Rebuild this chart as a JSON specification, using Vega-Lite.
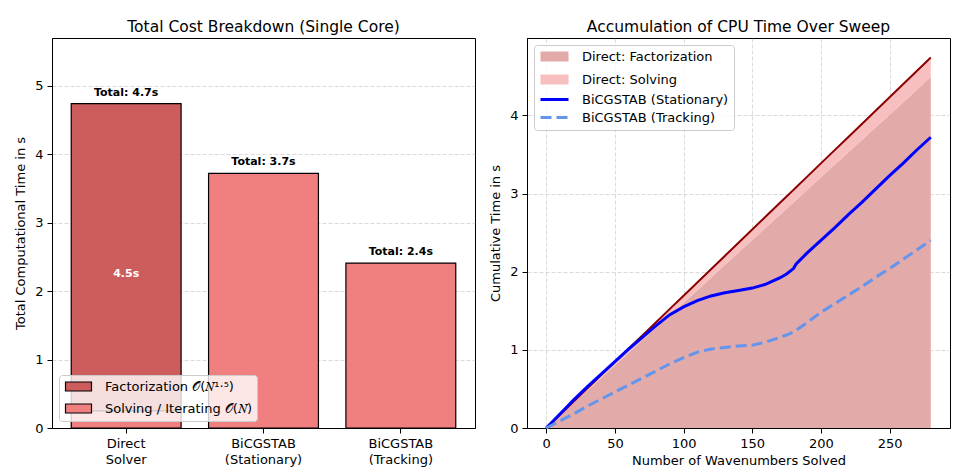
{
  "$schema": "https://vega.github.io/schema/vega-lite/v6.json",
  "padding": {"left": 13, "top": 19, "right": 3, "bottom": 0},
  "config": {
    "font": "DejaVu Sans",
    "view": {"stroke": "black", "strokeWidth": 1},
    "axis": {"domain": true, "domainColor": "black", "domainWidth": 1, "tickColor": "black", "tickSize": 5, "labelPadding": 4, "labelFontSize": 13, "labelColor": "#000", "titleFontSize": 13, "titleFontWeight": "normal", "titleColor": "#000", "gridColor": "#b0b0b0", "gridOpacity": 0.6, "gridDash": [4, 2], "gridWidth": 0.8, "zindex": 1},
    "title": {"fontSize": 15.5, "fontWeight": "normal", "color": "#000", "offset": 3},
    "concat": {"spacing": 12}
  },
  "resolve": {
    "scale": {"fill": "independent", "stroke": "independent", "shape": "independent", "strokeDash": "independent"},
    "legend": {"fill": "independent", "stroke": "independent", "shape": "independent", "strokeDash": "independent"}
  },
  "datasets": {
    "bars": [
      {"method": "Direct\nSolver", "component": "Factorization 𝒪(𝑁¹·⁵)", "value": 4.49},
      {"method": "Direct\nSolver", "component": "Solving / Iterating 𝒪(𝑁)", "value": 0.25},
      {"method": "BiCGSTAB\n(Stationary)", "component": "Solving / Iterating 𝒪(𝑁)", "value": 3.72},
      {"method": "BiCGSTAB\n(Tracking)", "component": "Solving / Iterating 𝒪(𝑁)", "value": 2.41}
    ],
    "totals": [
      {"method": "Direct\nSolver", "total": 4.74, "label": "Total: 4.7s"},
      {"method": "BiCGSTAB\n(Stationary)", "total": 3.72, "label": "Total: 3.7s"},
      {"method": "BiCGSTAB\n(Tracking)", "total": 2.41, "label": "Total: 2.4s"}
    ],
    "sweep": [
      {"n": 0, "fact": 0, "total": 0, "stat": 0, "track": 0},
      {"n": 10, "fact": 0.16, "total": 0.169, "stat": 0.18, "track": 0.09},
      {"n": 20, "fact": 0.321, "total": 0.339, "stat": 0.36, "track": 0.18},
      {"n": 30, "fact": 0.481, "total": 0.508, "stat": 0.53, "track": 0.28},
      {"n": 40, "fact": 0.641, "total": 0.677, "stat": 0.69, "track": 0.37},
      {"n": 50, "fact": 0.802, "total": 0.846, "stat": 0.85, "track": 0.46},
      {"n": 60, "fact": 0.962, "total": 1.016, "stat": 1.01, "track": 0.55},
      {"n": 70, "fact": 1.123, "total": 1.185, "stat": 1.16, "track": 0.64},
      {"n": 80, "fact": 1.283, "total": 1.354, "stat": 1.31, "track": 0.73},
      {"n": 90, "fact": 1.443, "total": 1.524, "stat": 1.45, "track": 0.82},
      {"n": 100, "fact": 1.604, "total": 1.693, "stat": 1.55, "track": 0.9},
      {"n": 110, "fact": 1.764, "total": 1.862, "stat": 1.63, "track": 0.97},
      {"n": 120, "fact": 1.924, "total": 2.031, "stat": 1.69, "track": 1.01},
      {"n": 130, "fact": 2.085, "total": 2.201, "stat": 1.73, "track": 1.03},
      {"n": 140, "fact": 2.245, "total": 2.37, "stat": 1.76, "track": 1.05},
      {"n": 150, "fact": 2.405, "total": 2.539, "stat": 1.79, "track": 1.06},
      {"n": 160, "fact": 2.566, "total": 2.709, "stat": 1.84, "track": 1.1},
      {"n": 170, "fact": 2.726, "total": 2.878, "stat": 1.92, "track": 1.16},
      {"n": 175, "fact": 2.806, "total": 2.963, "stat": 1.97, "track": 1.19},
      {"n": 180, "fact": 2.886, "total": 3.047, "stat": 2.04, "track": 1.23},
      {"n": 182, "fact": 2.918, "total": 3.081, "stat": 2.1, "track": 1.25},
      {"n": 190, "fact": 3.047, "total": 3.216, "stat": 2.24, "track": 1.35},
      {"n": 200, "fact": 3.207, "total": 3.386, "stat": 2.4, "track": 1.48},
      {"n": 210, "fact": 3.368, "total": 3.555, "stat": 2.56, "track": 1.59},
      {"n": 220, "fact": 3.528, "total": 3.724, "stat": 2.73, "track": 1.7},
      {"n": 230, "fact": 3.688, "total": 3.894, "stat": 2.89, "track": 1.81},
      {"n": 240, "fact": 3.849, "total": 4.063, "stat": 3.06, "track": 1.93},
      {"n": 250, "fact": 4.009, "total": 4.232, "stat": 3.23, "track": 2.04},
      {"n": 260, "fact": 4.169, "total": 4.401, "stat": 3.39, "track": 2.16},
      {"n": 270, "fact": 4.33, "total": 4.571, "stat": 3.56, "track": 2.28},
      {"n": 280, "fact": 4.49, "total": 4.74, "stat": 3.72, "track": 2.4}
    ],
    "legendRight": [
      {"series": "Direct: Factorization"},
      {"series": "Direct: Solving"},
      {"series": "BiCGSTAB (Stationary)"},
      {"series": "BiCGSTAB (Tracking)"}
    ]
  },
  "hconcat": [
    {
      "width": 423,
      "height": 390,
      "title": "Total Cost Breakdown (Single Core)",
      "layer": [
        {
          "data": {"name": "bars"},
          "mark": {"type": "bar", "stroke": "black", "strokeWidth": 1.2},
          "encoding": {
            "x": {"field": "method", "type": "nominal", "sort": null, "scale": {"paddingInner": 0.2, "paddingOuter": 0.14}, "axis": {"title": null, "labelAngle": 0, "labelExpr": "split(datum.label, '\\n')", "grid": false, "labelLineHeight": 16.5}},
            "y": {"field": "value", "type": "quantitative", "stack": "zero", "scale": {"domain": [0, 5.7], "nice": false}, "axis": {"title": "Total Computational Time in s", "values": [0, 1, 2, 3, 4, 5], "format": "d", "minExtent": 17, "maxExtent": 17, "titlePadding": 8}},
            "fill": {"field": "component", "type": "nominal", "scale": {"domain": ["Factorization 𝒪(𝑁¹·⁵)", "Solving / Iterating 𝒪(𝑁)"], "range": ["#cd5c5c", "#f08080"]},
              "legend": {"title": null, "orient": "bottom-left", "offset": 7, "symbolType": "M-1,-0.9H4.2V0.9H-1Z", "symbolSize": 100, "symbolStrokeColor": "black", "symbolStrokeWidth": 1.2, "symbolOpacity": 1, "labelFontSize": 13, "labelColor": "#000", "fillColor": "rgba(255,255,255,0.8)", "strokeColor": "#cccccc", "cornerRadius": 3, "padding": 5, "rowPadding": 7, "labelOffset": 28, "labelLimit": 400}}
          }
        },
        {
          "data": {"name": "totals"},
          "mark": {"type": "text", "fontWeight": "bold", "fontSize": 11, "baseline": "bottom", "dy": -6, "color": "#000"},
          "encoding": {
            "x": {"field": "method", "type": "nominal", "sort": null},
            "y": {"field": "total", "type": "quantitative", "title": "Total Computational Time in s"},
            "text": {"field": "label"}
          }
        },
        {
          "data": {"name": "bars"},
          "transform": [
            {"filter": "datum.component == 'Factorization 𝒪(𝑁¹·⁵)'"},
            {"calculate": "datum.value / 2", "as": "mid"},
            {"calculate": "format(datum.value, '.1f') + 's'", "as": "lbl"}
          ],
          "mark": {"type": "text", "fontWeight": "bold", "fontSize": 11, "baseline": "middle", "color": "white"},
          "encoding": {
            "x": {"field": "method", "type": "nominal", "sort": null},
            "y": {"field": "mid", "type": "quantitative", "title": "Total Computational Time in s"},
            "text": {"field": "lbl"}
          }
        }
      ]
    },
    {
      "width": 423,
      "height": 390,
      "title": "Accumulation of CPU Time Over Sweep",
      "encoding": {
        "x": {"field": "n", "type": "quantitative", "scale": {"domain": [-14, 294], "nice": false, "zero": false}, "axis": {"title": "Number of Wavenumbers Solved", "values": [0, 50, 100, 150, 200, 250], "titlePadding": 4}}
      },
      "layer": [
        {
          "data": {"name": "sweep"},
          "mark": {"type": "area", "color": "#e3aaaa", "opacity": 1},
          "encoding": {
            "y": {"field": "fact", "type": "quantitative", "scale": {"domain": [0, 4.99], "nice": false}, "axis": {"title": "Cumulative Time in s", "values": [0, 1, 2, 3, 4], "format": "d", "minExtent": 17, "maxExtent": 17, "titlePadding": 8}}
          }
        },
        {
          "data": {"name": "sweep"},
          "mark": {"type": "area", "color": "#f7bfbf", "opacity": 1},
          "encoding": {
            "y": {"field": "fact", "type": "quantitative", "title": "Cumulative Time in s"},
            "y2": {"field": "total"}
          }
        },
        {
          "data": {"name": "sweep"},
          "mark": {"type": "line", "color": "#8b0000", "strokeWidth": 2},
          "encoding": {"y": {"field": "total", "type": "quantitative", "title": "Cumulative Time in s"}}
        },
        {
          "data": {"name": "sweep"},
          "mark": {"type": "line", "color": "#0000ff", "strokeWidth": 3},
          "encoding": {"y": {"field": "stat", "type": "quantitative", "title": "Cumulative Time in s"}}
        },
        {
          "data": {"name": "sweep"},
          "mark": {"type": "line", "color": "#6495ed", "strokeWidth": 3, "strokeDash": [11, 5]},
          "encoding": {"y": {"field": "track", "type": "quantitative", "title": "Cumulative Time in s"}}
        },
        {
          "data": {"name": "legendRight"},
          "mark": {"type": "point", "opacity": 0, "strokeWidth": 3},
          "encoding": {
            "x": null,
            "stroke": {"field": "series", "type": "nominal", "scale": {"domain": ["Direct: Factorization", "Direct: Solving", "BiCGSTAB (Stationary)", "BiCGSTAB (Tracking)"], "range": ["#e3aaaa", "#f7bfbf", "#0000ff", "#6495ed"]},
              "legend": {"title": null, "orient": "top-left", "offset": 7, "symbolSize": 100, "symbolOpacity": 1, "symbolStrokeWidth": 3, "labelFontSize": 13, "labelColor": "#000", "fillColor": "rgba(255,255,255,0.8)", "strokeColor": "#cccccc", "cornerRadius": 3, "padding": 5, "rowPadding": 4, "labelOffset": 30, "labelLimit": 400}},
            "shape": {"field": "series", "type": "nominal", "scale": {"domain": ["Direct: Factorization", "Direct: Solving", "BiCGSTAB (Stationary)", "BiCGSTAB (Tracking)"], "range": ["M-1,-0.7H4.6M-1,-0.2H4.6M-1,0.3H4.6M-1,0.7H4.6", "M-1,-0.7H4.6M-1,-0.2H4.6M-1,0.3H4.6M-1,0.7H4.6", "M-1,0H4.6", "M-1,0H4.6"]}},
            "strokeDash": {"field": "series", "type": "nominal", "scale": {"domain": ["Direct: Factorization", "Direct: Solving", "BiCGSTAB (Stationary)", "BiCGSTAB (Tracking)"], "range": [[1, 0], [1, 0], [1, 0], [11, 5]]}}
          }
        }
      ]
    }
  ]
}
